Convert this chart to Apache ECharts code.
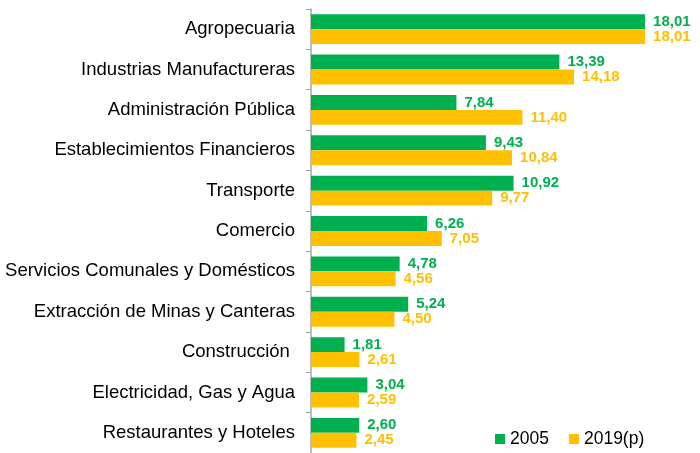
<!DOCTYPE html>
<html>
<head>
<meta charset="utf-8">
<script src="https://cdn.jsdelivr.net/npm/echarts@6/dist/echarts.min.js"></script>
<style>
  html, body { margin: 0; padding: 0; background: #fff; }
  #main { width: 700px; height: 453px; }
</style>
</head>
<body>
<div id="main"></div>
<script>
// sectores (de arriba hacia abajo)
const sectores = [
  'Agropecuaria',
  'Industrias Manufactureras',
  'Administración Pública',
  'Establecimientos Financieros',
  'Transporte',
  'Comercio',
  'Servicios Comunales y Domésticos',
  'Extracción de Minas y Canteras',
  'Construcción ',
  'Electricidad, Gas y Agua',
  'Restaurantes y Hoteles'
]
const serie2005 = [18.01, 13.39, 7.84, 9.43, 10.92, 6.26, 4.78, 5.24, 1.81, 3.04, 2.60]
const serie2019 = [18.01, 14.18, 11.40, 10.84, 9.77, 7.05, 4.56, 4.50, 2.61, 2.59, 2.45]
const nombres = ['2005', '2019(p)']

const VERDE = '#00B050'
const AMARILLO = '#FFC000'
const FUENTE = 'Liberation Sans, Arial, sans-serif'

function etiqueta(color) {
  return {
    show: true,
    position: 'right',
    distance: 8,
    color: color,
    fontFamily: FUENTE,
    fontWeight: 'bold',
    fontSize: 15,
    formatter: function (p) { return p.value.toFixed(2).replace('.', ',') }
  }
}

const myChart = echarts.init(document.getElementById('main'))
myChart.setOption({
  animation: false,
  grid: { left: 311, top: 9, width: 371, height: 448, containLabel: false },
  legend: {
    data: nombres,
    left: 490,
    top: 425,
    icon: 'rect',
    itemWidth: 10,
    itemHeight: 10,
    itemGap: 20,
    textStyle: { fontFamily: FUENTE, fontSize: 17.5, color: '#000' }
  },
  xAxis: {
    type: 'value',
    min: 0,
    max: 20,
    show: false
  },
  yAxis: {
    type: 'category',
    data: sectores,
    inverse: true,
    axisLine: { lineStyle: { color: '#A6A6A6', width: 1.5 } },
    axisTick: { show: true, length: 5, lineStyle: { color: '#A6A6A6' } },
    axisLabel: {
      margin: 16,
      color: '#000',
      fontFamily: FUENTE,
      fontSize: 18.5
    },
    splitLine: { show: false }
  },
  series: [
    {
      name: nombres[0],
      type: 'bar',
      data: serie2005,
      itemStyle: { color: VERDE },
      barGap: '0%',
      barCategoryGap: '26%',
      label: etiqueta(VERDE)
    },
    {
      name: nombres[1],
      type: 'bar',
      data: serie2019,
      itemStyle: { color: AMARILLO },
      label: etiqueta(AMARILLO)
    }
  ]
})
</script>
</body>
</html>
